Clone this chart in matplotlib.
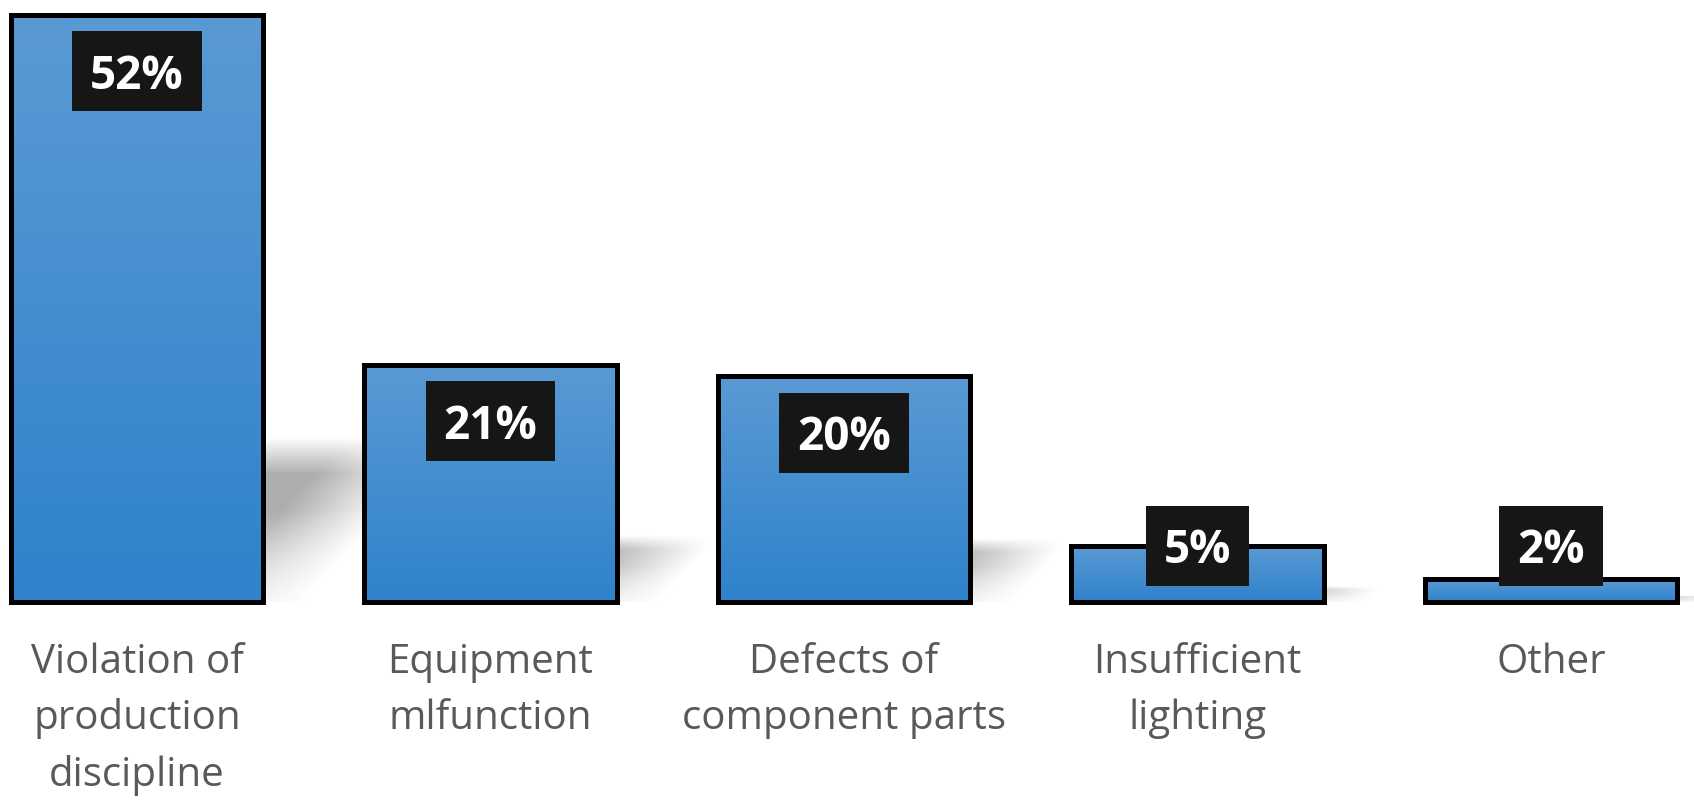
import numpy as np
import matplotlib.pyplot as plt
from matplotlib.patches import Polygon, Rectangle
from matplotlib.colors import LinearSegmentedColormap
from matplotlib.transforms import IdentityTransform

# data
categories = ["Violation of\nproduction\ndiscipline", "Equipment\nmlfunction",
              "Defects of\ncomponent parts", "Insufficient\nlighting", "Other"]
shares = [52, 21, 20, 5, 2]
share_labels = ["52%", "21%", "20%", "5%", "2%"]

plt.rcParams['font.family'] = ['Open Sans', 'DejaVu Sans']

fig = plt.figure(figsize=(16.94, 8.01), dpi=100)
ax = fig.add_axes([0, 0.2484, 1, 0.7516])
ax.set_xlim(-0.3876, 4.4045)
ax.set_ylim(0, 53.33)
ax.axis('off')

x = np.arange(len(shares))
width = 0.713

bars = ax.bar(x, shares, width=width, color='none', edgecolor='black',
              linewidth=3.6, zorder=3, clip_on=False)

# gradient fill inside each bar
blue = LinearSegmentedColormap.from_list('blue', ['#2f82cb', '#5a9ad4'])
grad = np.linspace(0, 1, 256).reshape(-1, 1)
for b in bars:
    x0, y0 = b.get_x(), b.get_y()
    im = ax.imshow(grad, cmap=blue, origin='lower', aspect='auto',
                   extent=[x0, x0 + b.get_width(), y0, y0 + b.get_height()],
                   zorder=2, interpolation='bilinear')
    im.set_clip_path(b)

# soft floor shadow to the right of each bar
px_x = 353.5
px_y = 11.288
for xc, h in zip(x, shares):
    sh = 0.28 * h
    skew = 0.9 * sh * px_y / px_x
    sx0 = xc - width / 2 + 0.05
    sx1 = xc + width / 2 + 0.12
    poly = Polygon([(sx0, 0), (sx1, 0), (sx1 + skew, sh), (sx0 + skew, sh)],
                   closed=True, facecolor='none', edgecolor='none')
    ax.add_patch(poly)
    nx, ny = 200, 120
    gx = np.linspace(sx0, sx1 + skew, nx)
    gy = np.linspace(0, sh, ny)
    X, Y = np.meshgrid(gx, gy)
    t = Y / sh
    u = (X - sx0 - skew * t) / (sx1 - sx0)
    a_v = np.clip((1 - t) / 0.22, 0, 1) * (0.3 + 0.7 * np.clip(t / 0.55, 0, 1))
    a_h = np.clip((1 - u) / 0.38, 0, 1)
    rgba = np.zeros((ny, nx, 4))
    rgba[..., :3] = 0.55
    rgba[..., 3] = 0.7 * a_v * a_h
    im = ax.imshow(rgba, origin='lower', aspect='auto',
                   extent=[sx0, sx1 + skew, 0, sh], zorder=1,
                   interpolation='bilinear')
    im.set_clip_path(poly)

# value labels in black boxes
texts = []
for xc, v, lab in zip(x, shares, share_labels):
    yc = max(v - 5, 5)
    t = ax.annotate(lab, (xc, yc), xytext=(0, -12.6), textcoords='offset points',
                    ha='center', va='baseline', color='white', fontsize=33,
                    fontweight='bold', zorder=6, annotation_clip=False)
    texts.append((t, xc, yc))

fig.canvas.draw()
renderer = fig.canvas.get_renderer()
for t, xc, yc in texts:
    ext = t.get_window_extent(renderer)
    cx, cy = ax.transData.transform((xc, yc))
    w = ext.width + 36
    hgt = 80
    r = Rectangle((cx - w / 2, cy - hgt / 2), w, hgt,
                  facecolor='#161616', edgecolor='none', zorder=5)
    r.set_transform(IdentityTransform())
    ax.add_artist(r)

# category labels under the bars
for xc, cat in zip(x, categories):
    ax.annotate(cat, (xc, 0), xytext=(0, -29), textcoords='offset points',
                ha='center', va='top', color='#595959', fontsize=29,
                linespacing=1.5, multialignment='center', annotation_clip=False)

fig.savefig('out.png', dpi=100)
